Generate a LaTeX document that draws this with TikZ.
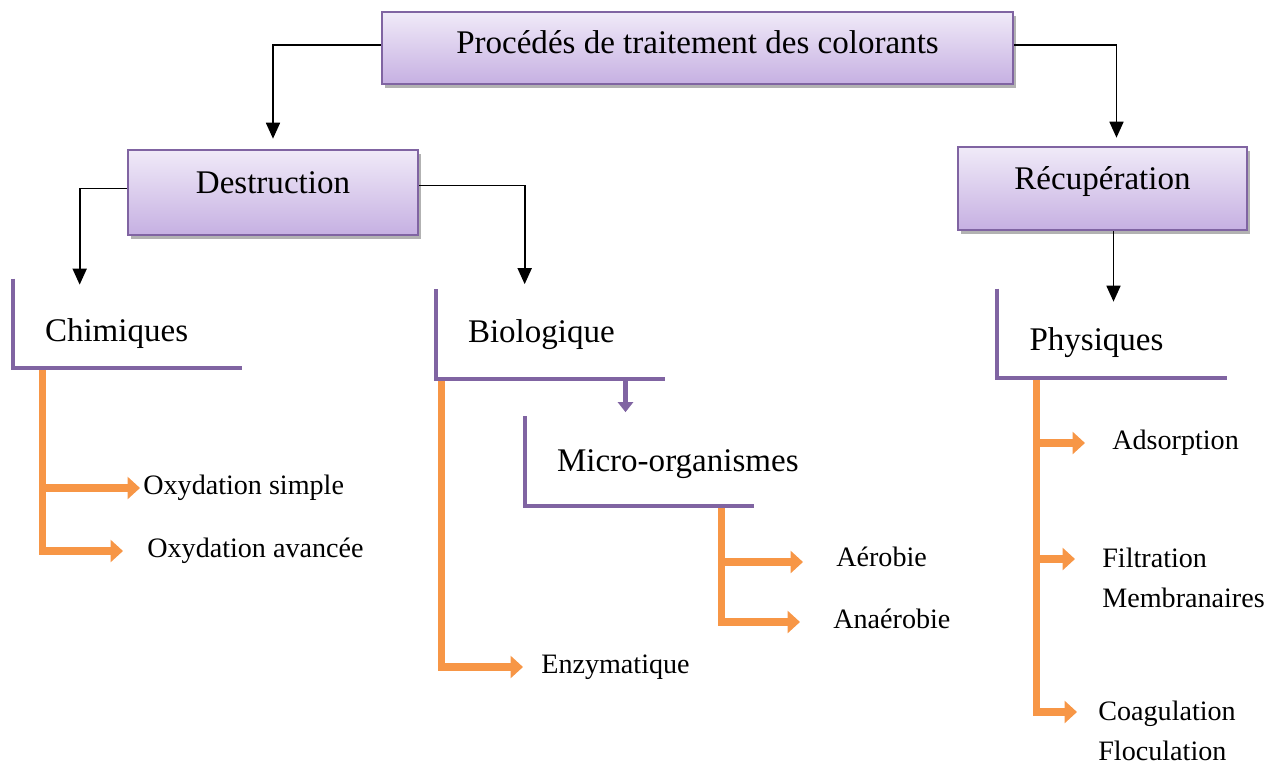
\documentclass[tikz,border=0pt]{standalone}
\usepackage{fontspec}
\setmainfont{Liberation Serif}
\usetikzlibrary{arrows.meta,positioning,calc,shadows}
\definecolor{boxline}{HTML}{8064A2}
\definecolor{boxtop}{HTML}{F0EAF8}
\definecolor{boxbot}{HTML}{C6B0E2}
\definecolor{orangeline}{HTML}{F79646}
\newcommand{\bigtxt}{\fontsize{18.8}{22}\selectfont}
\newcommand{\leaftxt}{\fontsize{16}{22.7}\selectfont}
\tikzstyle{box}=[draw=boxline, line width=1.5pt, top color=boxtop, bottom color=boxbot, drop shadow={shadow xshift=1.5pt, shadow yshift=-2pt, fill=black, opacity=.3}, font=\bigtxt, text depth=0.4cm]
\tikzstyle{bracket}=[minimum width=4.58cm, minimum height=1.78cm, inner xsep=0.64cm, text width=3.3cm, align=left, font=\bigtxt, text depth=0pt]
\tikzstyle{bline}=[boxline, line width=2.3pt]
\tikzstyle{leaf}=[inner sep=0pt, align=left, anchor=west, font=\leaftxt]
\tikzstyle{conn}=[line width=1pt, -{Triangle[width=0.28cm,length=0.32cm]}]
\tikzstyle{oarrow}=[orangeline, line width=4pt, -{Triangle[width=0.44cm,length=0.25cm]}]
\tikzstyle{parrow}=[boxline, line width=2.3pt, -{Triangle[width=0.3cm,length=0.2cm]}]

\begin{document}
\begin{tikzpicture}[x=0.02cm,y=-0.02cm]
    \useasboundingbox (0,0) rectangle (1279,765);
    \node (top) [box, minimum width=12.62cm, minimum height=1.44cm, text depth=0.25cm] at (697.5,48) {Procédés de traitement des colorants};
    \node (dest) [box, minimum width=5.8cm, minimum height=1.7cm] at (273,192.5) {Destruction};
    \node (rec) [box, minimum width=5.78cm, minimum height=1.66cm] at (1102.5,188.5) {Récupération};
    \node (chim) [bracket, text height=0.72cm] at (127.5,323.5) {Chimiques};
    \node (bio) [bracket, text height=0.34cm] at (550.5,334) {Biologique};
    \node (micro) [bracket, text height=0.42cm] at (639.5,461) {\mbox{Micro-organismes}};
    \node (phys) [bracket, text height=0.68cm] at (1112,333.5) {Physiques};
    \node (oxs) [leaf] at (143,488) {Oxydation simple};
    \node (oxa) [leaf] at (147,551) {Oxydation avancée};
    \node (aer) [leaf] at (836,557) {Aérobie};
    \node (ana) [leaf] at (833,619) {Anaérobie};
    \node (enz) [leaf] at (541,667) {Enzymatique};
    \node (ads) [leaf] at (1112,443) {Adsorption};
    \node (ftr) [leaf, anchor=north west] at (1102,548) {Filtration\\Membranaires};
    \node (coa) [leaf, anchor=north west] at (1098,701) {Coagulation\\Floculation};
    \draw[bline] (chim.north west) |- (chim.south east);
    \draw[bline] (bio.north west) |- (bio.south east);
    \draw[bline] (micro.north west) |- (micro.south east);
    \draw[bline] (phys.north west) |- (phys.south east);
    \draw[conn, shorten >=0.2cm] ([shift={(0,-3)}]top.west) -| (dest.north);
    \draw[conn, shorten >=0.16cm] ([shift={(0,-3)}]top.east) -| ([shift={(14,0)}]rec.north);
    \draw[conn] ([shift={(0,-4)}]dest.west) -| ([shift={(67,6)}]chim.north west);
    \draw[conn] ([shift={(0,-7)}]dest.east) -| ([shift={(89,-5)}]bio.north west);
    \draw[conn] ([shift={(11,0)}]rec.south) -- ($(rec.south |- phys.north)+(11,13)$);
    \draw[parrow] ([shift={(75,0)}]bio.south) -- ($(bio.south |- micro.north)+(75,-4)$);
    \draw[oarrow] ([shift={(30,2)}]chim.south west) |- ([shift={(-3,0)}]oxs.west);
    \draw[oarrow] ([shift={(30,2)}]chim.south west) |- ([shift={(-24,0)}]oxa.west);
    \draw[oarrow] ([shift={(6,2)}]bio.south west) |- ([shift={(-18,0)}]enz.west);
    \draw[oarrow] ([shift={(197,2)}]micro.south west) |- ([shift={(-33,5)}]aer.west);
    \draw[oarrow] ([shift={(197,2)}]micro.south west) |- ([shift={(-33,3)}]ana.west);
    \draw[oarrow] ([shift={(39,2)}]phys.south west) |- ([shift={(-27,0)}]ads.west);
    \draw[oarrow] ([shift={(39,2)}]phys.south west) |- ([shift={(-27,11)}]ftr.north west);
    \draw[oarrow] ([shift={(39,2)}]phys.south west) |- ([shift={(-21,11)}]coa.north west);
\end{tikzpicture}
\end{document}
